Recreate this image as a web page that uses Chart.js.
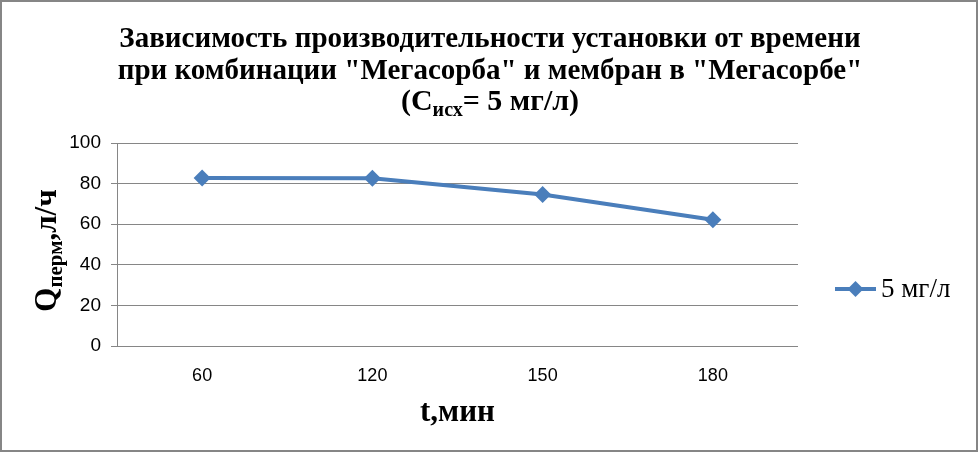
<!DOCTYPE html>
<html>
<head>
<meta charset="utf-8">
<script src="https://cdn.jsdelivr.net/npm/chart.js@4.4.1/dist/chart.umd.min.js"></script>
<style>
  html, body { margin: 0; padding: 0; background: #fff; }
  #wrap { width: 978px; height: 452px; }
</style>
</head>
<body>
<div id="wrap"><canvas id="mainChart" width="978" height="452"></canvas></div>
<script>
// Data
const categories = ['60', '120', '150', '180'];
const seriesName = '5 мг/л';
const seriesValues = [82.8, 82.6, 74.6, 62.2];
const yTickValues = [0, 20, 40, 60, 80, 100];

const titleLine1 = 'Зависимость производительности установки от времени';
const titleLine2 = 'при комбинации "Мегасорба" и мембран в "Мегасорбе"';
const titleLine3 = ['(C', 'исх', '= 5 мг/л)'];
const yTitle = ['Q', 'перм', ',л/ч'];
const xTitle = 't,мин';

const lineColor = '#4a7ebb';
const gridColor = '#868686';
const serif = '"Liberation Serif", "Times New Roman", serif';
const sans = '"Liberation Sans", Arial, sans-serif';

// draws pieces of text with a subscript in the middle, centered on cx
function drawSubText(ctx, parts, cx, cy, bigSize, subSize, subShift) {
    ctx.font = `bold ${bigSize}px ${serif}`;
    const w0 = ctx.measureText(parts[0]).width;
    const w2 = ctx.measureText(parts[2]).width;
    ctx.font = `bold ${subSize}px ${serif}`;
    const w1 = ctx.measureText(parts[1]).width;
    let x = cx - (w0 + w1 + w2) / 2;
    ctx.textAlign = 'left';
    ctx.textBaseline = 'alphabetic';
    ctx.font = `bold ${bigSize}px ${serif}`;
    ctx.fillText(parts[0], x, cy);
    x += w0;
    ctx.font = `bold ${subSize}px ${serif}`;
    ctx.fillText(parts[1], x, cy + subShift);
    x += w1;
    ctx.font = `bold ${bigSize}px ${serif}`;
    ctx.fillText(parts[2], x, cy);
}

const decorPlugin = {
    id: 'decor',
    afterDraw(chart) {
        const ctx = chart.ctx;
        const area = chart.chartArea;
        ctx.save();
        ctx.fillStyle = '#000';

        // title
        ctx.textAlign = 'center';
        ctx.textBaseline = 'alphabetic';
        ctx.font = `bold 29px ${serif}`;
        ctx.fillText(titleLine1, 490, 47);
        ctx.fillText(titleLine2, 490, 79);
        drawSubText(ctx, titleLine3, 490, 110, 30, 20, 6);

        // x axis title
        ctx.textAlign = 'center';
        ctx.font = `bold 31px ${serif}`;
        ctx.fillText(xTitle, (area.left + area.right) / 2, 421);

        // y axis title (rotated)
        ctx.save();
        ctx.translate(56, (area.top + area.bottom) / 2 + 6);
        ctx.rotate(-Math.PI / 2);
        drawSubText(ctx, yTitle, 0, 0, 31, 21, 6);
        ctx.restore();

        // legend
        const ly = 289;
        ctx.strokeStyle = lineColor;
        ctx.lineWidth = 4;
        ctx.beginPath();
        ctx.moveTo(835, ly);
        ctx.lineTo(876, ly);
        ctx.stroke();
        ctx.fillStyle = lineColor;
        ctx.beginPath();
        ctx.moveTo(855.5, ly - 8);
        ctx.lineTo(863.5, ly);
        ctx.lineTo(855.5, ly + 8);
        ctx.lineTo(847.5, ly);
        ctx.closePath();
        ctx.fill();
        ctx.fillStyle = '#000';
        ctx.textAlign = 'left';
        ctx.textBaseline = 'middle';
        ctx.font = `27px ${serif}`;
        ctx.fillText(seriesName, 881, ly + 1);

        // outer border
        ctx.strokeStyle = '#868686';
        ctx.lineWidth = 2;
        ctx.strokeRect(1, 1, chart.width - 2, chart.height - 2);
        ctx.restore();
    }
};

const ctx = document.getElementById('mainChart').getContext('2d');
new Chart(ctx, {
    type: 'line',
    data: {
        labels: categories,
        datasets: [{
            label: seriesName,
            data: seriesValues,
            borderColor: lineColor,
            borderWidth: 4,
            backgroundColor: lineColor,
            pointStyle: 'rectRot',
            pointRadius: 8.5,
            pointBorderWidth: 0,
            pointBackgroundColor: lineColor,
            tension: 0
        }]
    },
    options: {
        responsive: false,
        animation: false,
        layout: { padding: { left: 57, top: 143, right: 180, bottom: 56 } },
        plugins: {
            legend: { display: false },
            title: { display: false },
            tooltip: { enabled: false }
        },
        scales: {
            x: {
                offset: true,
                afterFit: (scale) => { scale.height = 50; },
                grid: { display: false, drawTicks: false },
                border: { display: false },
                ticks: { color: '#000', font: { family: sans, size: 18 }, padding: 19 }
            },
            y: {
                min: 0,
                max: 100,
                afterFit: (scale) => { scale.width = 60; },
                afterBuildTicks: (scale) => { scale.ticks = yTickValues.map(v => ({ value: v })); },
                grid: { color: gridColor, lineWidth: 1, tickLength: 6, drawTicks: true },
                border: { display: true, color: gridColor, width: 1 },
                ticks: { color: '#000', font: { family: sans, size: 19 }, padding: 10 }
            }
        }
    },
    plugins: [decorPlugin]
});
</script>
</body>
</html>
